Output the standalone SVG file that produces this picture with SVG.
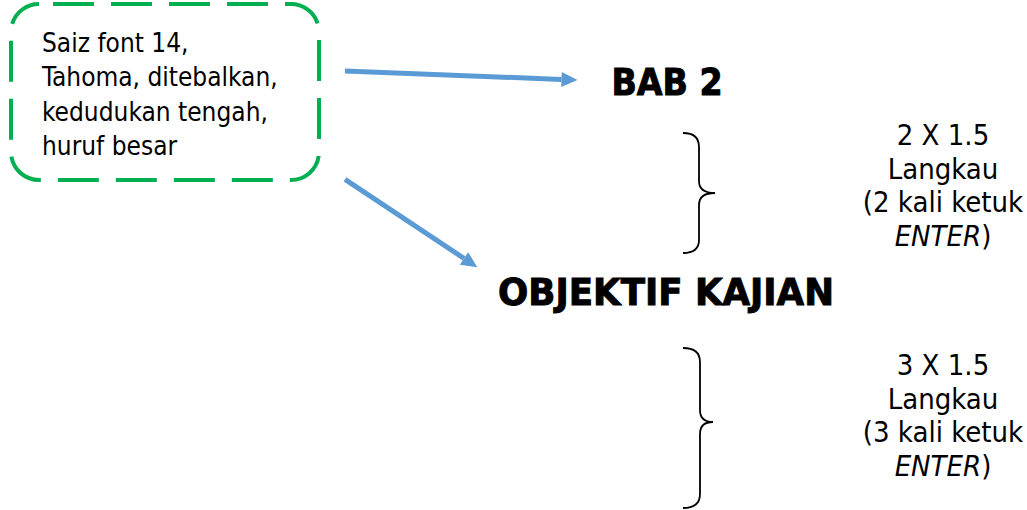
<svg xmlns="http://www.w3.org/2000/svg" width="1027" height="510" viewBox="0 0 1027 510">
  <style>
    .t { font-family: "DejaVu Sans Condensed", "Liberation Sans", sans-serif; fill: #000; }
    .note { font-size: 26px; }
    .head { font-size: 37px; font-weight: bold; text-anchor: middle; stroke: #000; stroke-width: 0.9; }
    .side { font-size: 29px; text-anchor: middle; }
    .arrow { stroke: #5B9BD5; stroke-width: 5; fill: none; marker-end: url(#ah); }
    .brace { stroke: #000; stroke-width: 1.8; fill: none; }
  </style>
  <defs>
    <marker id="ah" markerUnits="userSpaceOnUse" markerWidth="20" markerHeight="20" refX="0" refY="8" orient="auto" viewBox="0 0 20 16" overflow="visible">
      <path d="M0,0.5 L16,8 L0,15.5 z" fill="#5B9BD5"/>
    </marker>
  </defs>
  <rect width="1027" height="510" fill="#fff"/>

  <g id="note">
    <rect x="11" y="4" width="308" height="176" rx="28" ry="28" fill="none" stroke="#00B050" stroke-width="4" stroke-dasharray="41 17" stroke-dashoffset="44"/>
    <text class="t note" x="42" y="52">Saiz font 14,</text>
    <text class="t note" x="42" y="86">Tahoma, ditebalkan,</text>
    <text class="t note" x="42" y="120.5">kedudukan tengah,</text>
    <text class="t note" x="42" y="155">huruf besar</text>
  </g>

  <g id="bab2">
    <text class="t head" x="667" y="95">BAB 2</text>
  </g>

  <g id="objektif">
    <text class="t head" x="666" y="305" style="font-size:38px" textLength="336" lengthAdjust="spacingAndGlyphs">OBJEKTIF KAJIAN</text>
  </g>

  <g id="spacing1">
    <path class="brace" d="M683,133 C693,133 699,137 699,147 L699,181 C699,189 705,193 715,193 C705,193 699,197 699,205 L699,240 C699,249 693,253 683,253"/>
    <text class="t side" x="943" y="145">2 X 1.5</text>
    <text class="t side" x="943" y="178.5">Langkau</text>
    <text class="t side" x="943" y="212">(2 kali ketuk</text>
    <text class="t side" x="943" y="246"><tspan font-style="italic">ENTER</tspan>)</text>
  </g>

  <g id="spacing2">
    <path class="brace" d="M683,348 C694,348 700,352 700,362 L700,410 C700,418 705,422 713,422 C705,422 700,426 700,434 L700,494 C700,504 694,508 683,508"/>
    <text class="t side" x="943" y="375">3 X 1.5</text>
    <text class="t side" x="943" y="408.5">Langkau</text>
    <text class="t side" x="943" y="442">(3 kali ketuk</text>
    <text class="t side" x="943" y="476"><tspan font-style="italic">ENTER</tspan>)</text>
  </g>

  <g id="connectors">
    <line class="arrow" x1="345" y1="71" x2="561.5" y2="79.4"/>
    <line class="arrow" x1="345" y1="179.3" x2="464" y2="258.4"/>
  </g>
</svg>
